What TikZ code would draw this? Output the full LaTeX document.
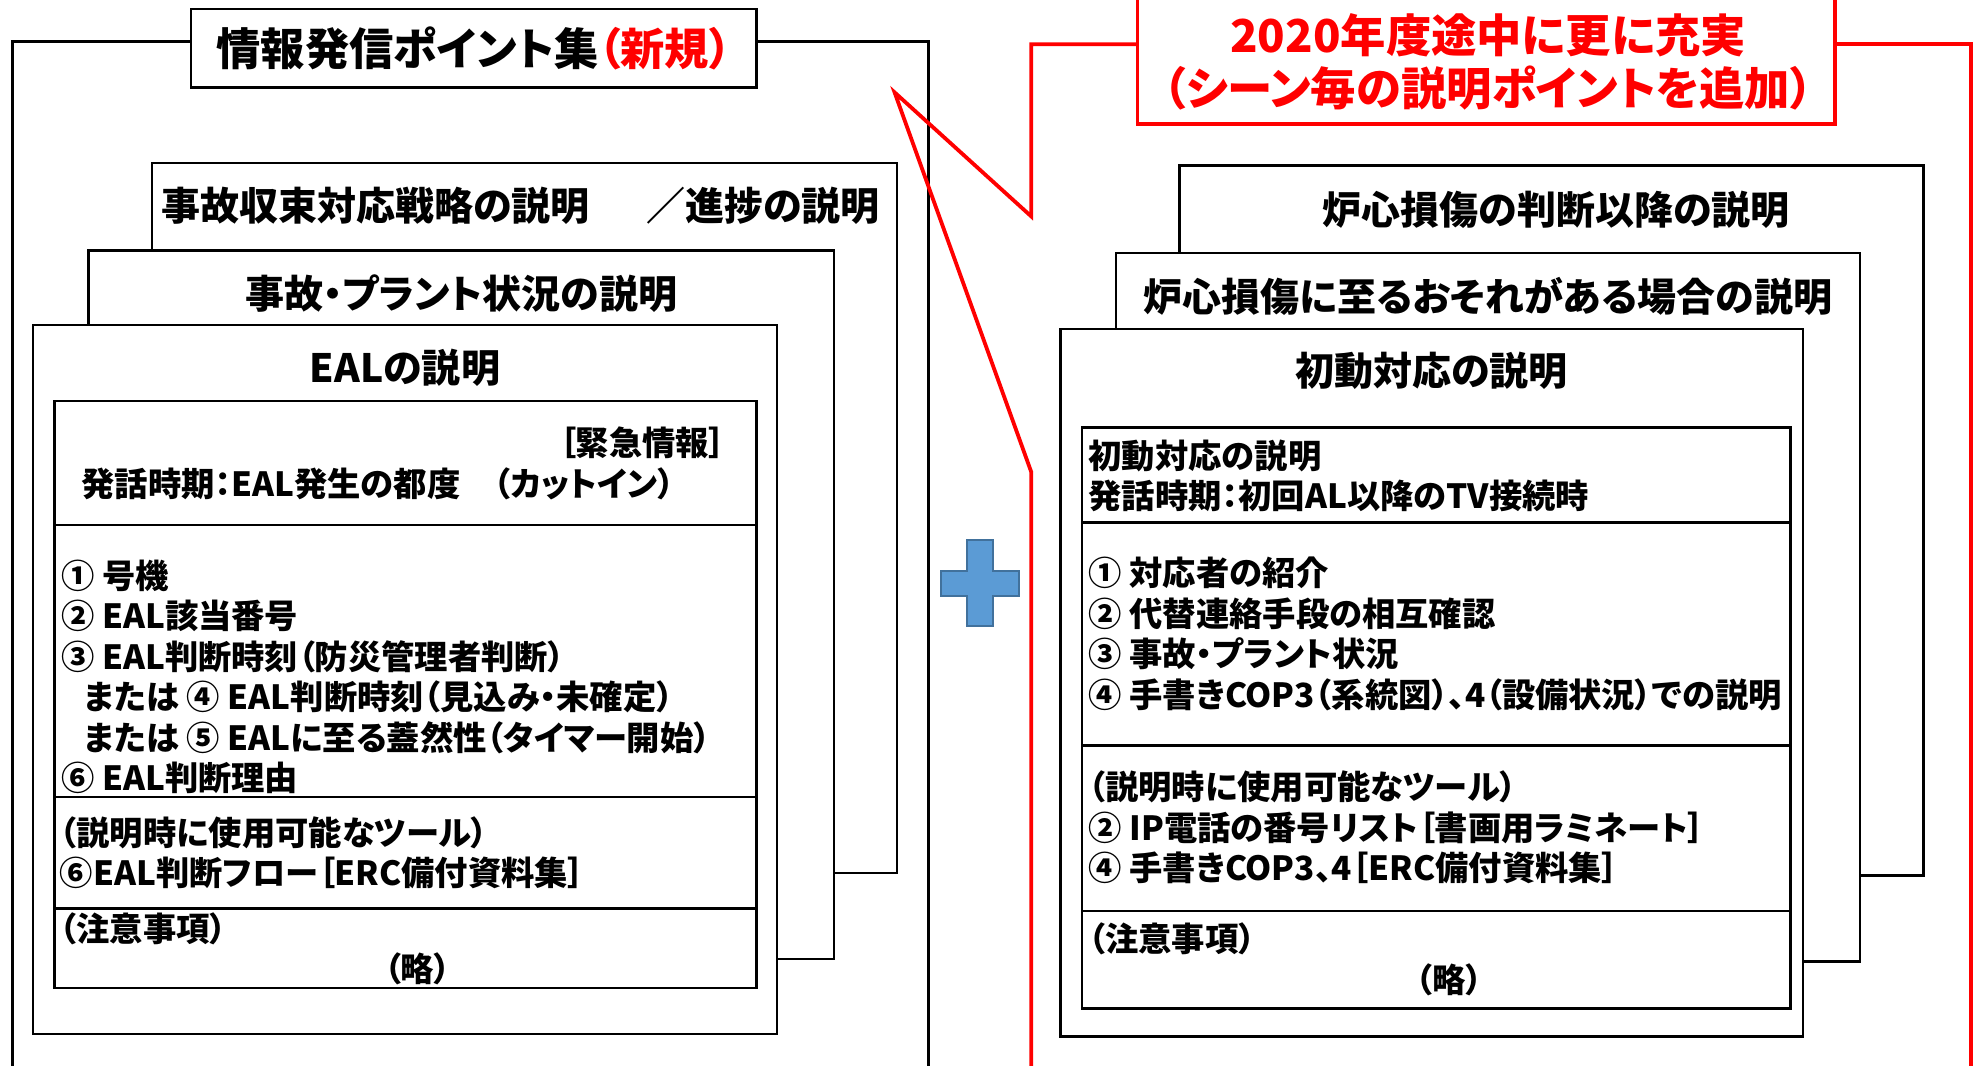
\documentclass[tikz,border=0pt]{standalone}
\usepackage{fontspec}
\setmainfont{Noto Sans CJK JP}[RawFeature=+palt]
\usetikzlibrary{positioning, calc}

\definecolor{plusblue}{HTML}{5B9BD5}
\definecolor{plusedge}{HTML}{41719C}

\begin{document}
\begin{tikzpicture}[
    x=0.6pt, y=-0.6pt,
    % Sheet styles
    sheet/.style={
        draw, fill=white, line width=1.2pt, anchor=north west,
        inner sep=0pt, outer sep=0pt
    },
    cell/.style={
        draw, line width=1.2pt, anchor=north west,
        inner sep=0pt, outer sep=0pt
    },
    % Text styles
    sheettitle/.style={
        font=\bfseries\fontsize{18.5pt}{22pt}\selectfont, inner sep=0pt
    },
    note/.style={
        font=\bfseries\fontsize{15.8pt}{19.2pt}\selectfont,
        align=left, anchor=west, inner sep=0pt
    },
    headbox/.style={
        draw, fill=white, line width=1.2pt, inner sep=0pt,
        font=\bfseries\fontsize{21pt}{25pt}\selectfont
    },
    % Frame lines
    frame/.style={draw, line width=1.2pt},
    callout/.style={draw=red, line width=1.8pt, line join=miter},
]

\clip (0,0) rectangle (1568,842);

% ===== LEFT GROUP: new information points =====

% Outer frame
\coordinate (L-tl) at (10,33);
\coordinate (L-tr) at (734,33);
\draw[frame] (151,33) -- (L-tl) -- (10,860);
\draw[frame] (598,33) -- (L-tr) -- (734,860);

% Heading
\node[headbox, minimum width=268.2pt, minimum height=37.2pt] (L-title) at (374.5,38)
    {情報発信ポイント集\textcolor{red}{（新規）}};

% Stacked sheets, back to front
\node[sheet, minimum width=353.4pt, minimum height=336.6pt] (L-back) at (120,129) {};
\node[sheettitle, anchor=west] (L-back-ttl) at (127,163)
    {事故収束対応戦略の説明\hspace{1.45em}／進捗の説明};

\node[sheet, minimum width=353.4pt, minimum height=336pt] (L-mid) at (70,198) {};
\node[sheettitle] (L-mid-ttl) at (L-mid.north |- 0,232) {事故・プラント状況の説明};

\node[sheet, minimum width=352.8pt, minimum height=336pt] (L-front) at (26,257) {};
\node[sheettitle] (L-front-ttl) at (L-front.north |- 0,291) {EALの説明};

% Table rows
\node[cell, minimum width=333pt, minimum height=58.8pt] (L-row1) at (43,317) {};
\node[cell, minimum width=333pt, minimum height=129pt] (L-row2) at (L-row1.south west) {};
\node[cell, minimum width=333pt, minimum height=52.8pt] (L-row3) at (L-row2.south west) {};
\node[cell, minimum width=333pt, minimum height=37.8pt] (L-row4) at (L-row3.south west) {};

% Row texts
\node[note, anchor=east] (L-flag) at (574,350) {［緊急情報］};
\node[note] (L-time) at (64,382) {発話時期：EAL発生の都度　（カットイン）};
\node[note] (L-items) at (48,535) {%
    ① 号機\\
    ② EAL該当番号\\
    ③ EAL判断時刻（防災管理者判断）\\
    \hspace*{0.7em}または ④ EAL判断時刻（見込み・未確定）\\
    \hspace*{0.7em}または ⑤ EALに至る蓋然性（タイマー開始）\\
    ⑥ EAL判断理由};
\node[note] (L-tools) at (47,674) {%
    （説明時に使用可能なツール）\\
    ⑥EAL判断フロー［ERC備付資料集］};
\node[note] (L-caution) at (47,734) {（注意事項）};
\node[note, anchor=center] (L-omit) at (330,766) {（略）};

% ===== PLUS SIGN =====
\filldraw[fill=plusblue, draw=plusedge, line width=1pt]
    (764.4,427) -- (785,427) -- (785,451) -- (805.4,451) -- (805.4,471)
    -- (785,471) -- (785,495) -- (764.4,495) -- (764.4,471) -- (744,471)
    -- (744,451) -- (764.4,451) -- cycle;

% ===== RIGHT GROUP: points added during 2020 =====

% Red callout frame
\coordinate (R-tl) at (815,35);
\coordinate (R-tip) at (707,73);
\coordinate (R-tr) at (1558,35);
\draw[callout] (899,35) -- (R-tl) -- (815,171) -- (R-tip) -- (815,373) -- (815,860);
\draw[callout] (1450,35) -- (R-tr) -- (1558,860);

% Red heading
\node[draw=red, fill=white, line width=1.8pt, inner sep=0pt,
      minimum width=330.6pt, minimum height=64.8pt] (R-title) at (1174.5,44) {};
\node[font=\bfseries\fontsize{21.5pt}{25.2pt}\selectfont, text=red, align=center,
      inner sep=0pt] (R-title-txt) at (1176,49)
    {2020年度途中に更に充実\\（シーン毎の説明ポイントを追加）};

% Stacked sheets, back to front
\node[sheet, minimum width=352.8pt, minimum height=336.6pt] (R-back) at (932,131) {};
\node[sheettitle] (R-back-ttl) at (1230,166) {炉心損傷の判断以降の説明};

\node[sheet, minimum width=352.8pt, minimum height=336pt] (R-mid) at (882,200) {};
\node[sheettitle] (R-mid-ttl) at (R-mid.north |- 0,234) {炉心損傷に至るおそれがある場合の説明};

\node[sheet, minimum width=352.2pt, minimum height=335.4pt] (R-front) at (838,260) {};
\node[sheettitle] (R-front-ttl) at (R-front.north |- 0,293) {初動対応の説明};

% Table rows
\node[cell, minimum width=336pt, minimum height=45pt] (R-row1) at (855,338) {};
\node[cell, minimum width=336pt, minimum height=105.6pt] (R-row2) at (R-row1.south west) {};
\node[cell, minimum width=336pt, minimum height=78.6pt] (R-row3) at (R-row2.south west) {};
\node[cell, minimum width=336pt, minimum height=46.2pt] (R-row4) at (R-row3.south west) {};

% Row texts
\node[note] (R-time) at (860,376) {%
    初動対応の説明\\
    発話時期：初回AL以降のTV接続時};
\node[note] (R-items) at (860,501) {%
    ① 対応者の紹介\\
    ② 代替連絡手段の相互確認\\
    ③ 事故・プラント状況\\
    ④ 手書きCOP3（系統図）、4（設備状況）での説明};
\node[note] (R-tools) at (860,654) {%
    （説明時に使用可能なツール）\\
    ② IP電話の番号リスト［書画用ラミネート］\\
    ④ 手書きCOP3、4［ERC備付資料集］};
\node[note] (R-caution) at (860,742) {（注意事項）};
\node[note, anchor=center] (R-omit) at (1145,774) {（略）};

\end{tikzpicture}
\end{document}
